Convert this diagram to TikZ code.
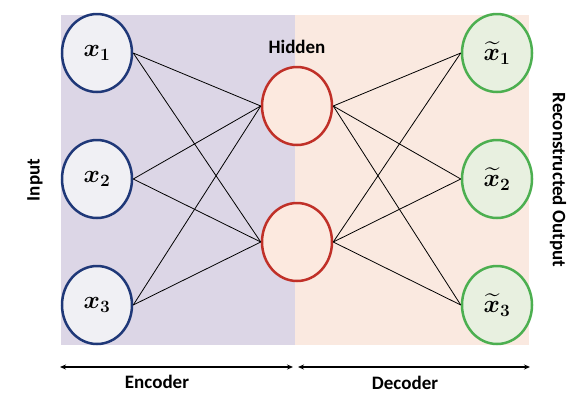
\documentclass[tikz,border=0pt]{standalone}
\usepackage{amsmath,amssymb,bm}
\usepackage{fontspec}
\setmainfont{Carlito}
\usetikzlibrary{shapes.geometric,arrows.meta}
\definecolor{enccol}{RGB}{220,214,230}
\definecolor{deccol}{RGB}{250,233,224}
\definecolor{incol}{RGB}{31,56,120}
\definecolor{infill}{RGB}{240,240,244}
\definecolor{hidcol}{RGB}{192,48,40}
\definecolor{hidfill}{RGB}{252,233,223}
\definecolor{outcol}{RGB}{76,175,80}
\definecolor{outfill}{RGB}{232,240,224}
\tikzset{every picture/.style={x=1pt,y=-1pt}}
\tikzset{unit/.style={ellipse,line width=2.5pt,minimum width=70,minimum height=78,inner sep=0pt,font=\fontsize{26}{28}\selectfont}}
\tikzset{inunit/.style={unit,draw=incol,fill=infill}}
\tikzset{hidunit/.style={unit,draw=hidcol,fill=hidfill}}
\tikzset{outunit/.style={unit,draw=outcol,fill=outfill}}
\tikzset{edge/.style={line width=0.8pt}}
\tikzset{span/.style={{Stealth[length=6pt,width=5pt]}-{Stealth[length=6pt,width=5pt]},line width=1.6pt}}
\tikzset{lab/.style={font=\fontsize{19}{21}\selectfont\bfseries}}
\begin{document}
\begin{tikzpicture}
\useasboundingbox [fill=white] (0,0) rectangle (577,408);
\fill [enccol] (61,15) rectangle (295,345);
\fill [deccol] (295,15) rectangle (529,345);

\node [inunit] (x1) at (97,53) {$\bm{x}_{\bm{1}}$};
\node [inunit] (x2) at (97,179) {$\bm{x}_{\bm{2}}$};
\node [inunit] (x3) at (97,305) {$\bm{x}_{\bm{3}}$};

\node [hidunit] (h1) at (297,106) {};
\node [hidunit] (h2) at (297,242) {};

\node [outunit] (y1) at (497,53) {$\widetilde{\bm{x}}_{\bm{1}}$};
\node [outunit] (y2) at (497,179) {$\widetilde{\bm{x}}_{\bm{2}}$};
\node [outunit] (y3) at (497,305) {$\widetilde{\bm{x}}_{\bm{3}}$};

\draw [edge] (x1.east) -- (h1.west);
\draw [edge] (x1.east) -- (h2.west);
\draw [edge] (x2.east) -- (h1.west);
\draw [edge] (x2.east) -- (h2.west);
\draw [edge] (x3.east) -- (h1.west);
\draw [edge] (x3.east) -- (h2.west);

\draw [edge] (h1.east) -- (y1.west);
\draw [edge] (h1.east) -- (y2.west);
\draw [edge] (h1.east) -- (y3.west);
\draw [edge] (h2.east) -- (y1.west);
\draw [edge] (h2.east) -- (y2.west);
\draw [edge] (h2.east) -- (y3.west);

\node [lab] (hid) at (297,47) {Hidden};
\node [lab,rotate=90] (inp) at (35,180) {Input};
\node [lab,rotate=-90] (rec) at (558,180) {Reconstructed Output};

\coordinate (e1) at (60,367);
\coordinate (e2) at (293,367);
\coordinate (d1) at (298,367);
\coordinate (d2) at (530,367);
\draw [span] (e1) -- (e2);
\draw [span] (d1) -- (d2);
\node [lab] (enc) at (157,382) {Encoder};
\node [lab] (dec) at (405,383) {Decoder};
\end{tikzpicture}
\end{document}
